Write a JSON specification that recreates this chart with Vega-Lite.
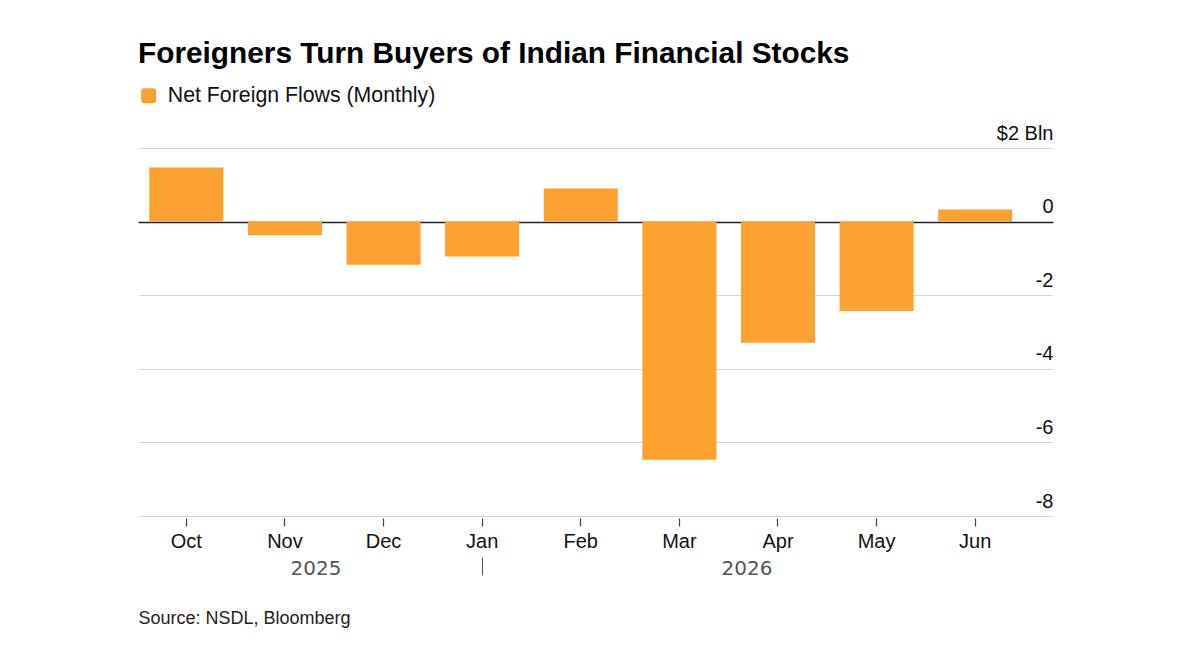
{
  "$schema": "https://vega.github.io/schema/vega-lite/v6.json",
  "autosize": {"type": "none"},
  "width": 915,
  "height": 368,
  "padding": {"left": 138, "top": 148, "right": 147, "bottom": 142},
  "background": "#ffffff",
  "title": {
    "text": "Foreigners Turn Buyers of Indian Financial Stocks",
    "anchor": "start",
    "frame": "group",
    "font": "Liberation Sans",
    "fontSize": 29.8,
    "fontWeight": "bold",
    "color": "#000000",
    "baseline": "alphabetic",
    "offset": -8
  },
  "config": {
    "view": {"stroke": null},
    "axis": {"labelFont": "Liberation Sans", "titleFont": "Liberation Sans"},
    "legend": {"labelFont": "Liberation Sans"}
  },
  "data": {
    "values": [
      {"month": "Oct", "flow": 1.47, "series": "Net Foreign Flows (Monthly)"},
      {"month": "Nov", "flow": -0.37, "series": "Net Foreign Flows (Monthly)"},
      {"month": "Dec", "flow": -1.17, "series": "Net Foreign Flows (Monthly)"},
      {"month": "Jan", "flow": -0.95, "series": "Net Foreign Flows (Monthly)"},
      {"month": "Feb", "flow": 0.9, "series": "Net Foreign Flows (Monthly)"},
      {"month": "Mar", "flow": -6.47, "series": "Net Foreign Flows (Monthly)"},
      {"month": "Apr", "flow": -3.29, "series": "Net Foreign Flows (Monthly)"},
      {"month": "May", "flow": -2.43, "series": "Net Foreign Flows (Monthly)"},
      {"month": "Jun", "flow": 0.33, "series": "Net Foreign Flows (Monthly)"}
    ]
  },
  "resolve": {"axis": {"x": "independent"}},
  "layer": [
    {
      "mark": {"type": "bar"},
      "encoding": {
        "x": {
          "field": "month",
          "type": "ordinal",
          "sort": null,
          "scale": {"paddingInner": 0.249, "paddingOuter": 0.264, "align": 0.217},
          "axis": {
            "orient": "bottom",
            "title": null,
            "domain": false,
            "grid": false,
            "offset": 2,
            "tickSize": 8,
            "tickColor": "#444444",
            "tickWidth": 1.2,
            "labelAngle": 0,
            "labelBaseline": "top",
            "labelPadding": 5,
            "labelFontSize": 20,
            "labelColor": "#111111"
          }
        },
        "y": {
          "field": "flow",
          "type": "quantitative",
          "scale": {"domain": [-8, 2], "nice": false, "zero": false},
          "axis": {
            "orient": "right",
            "title": null,
            "values": [-8, -6, -4, -2, 0, 2],
            "grid": true,
            "gridColor": {"condition": {"test": "datum.value == 0", "value": "#222222"}, "value": "#d6d6d6"},
            "gridWidth": {"condition": {"test": "datum.value == 0", "value": 1.5}, "value": 1},
            "domain": false,
            "ticks": false,
            "tickSize": 0,
            "labelPadding": 0,
            "labelAlign": "right",
            "labelBaseline": "alphabetic",
            "labelOffset": -9,
            "labelExpr": "datum.value == 2 ? '$2 Bln' : '' + datum.value",
            "labelFontSize": 20,
            "labelColor": "#111111"
          }
        },
        "color": {
          "field": "series",
          "type": "nominal",
          "scale": {"range": ["#FCA130"]},
          "legend": {
            "title": null,
            "orient": "none",
            "legendX": 0,
            "legendY": -63,
            "padding": 0,
            "symbolType": "M-1,-0.6Q-1,-1,-0.6,-1L0.6,-1Q1,-1,1,-0.6L1,0.6Q1,1,0.6,1L-0.6,1Q-1,1,-1,0.6Z",
            "symbolSize": 225,
            "symbolStrokeWidth": 0,
            "symbolOpacity": 1,
            "labelOffset": 8.5,
            "labelLimit": 500,
            "labelFontSize": 21.3,
            "labelColor": "#111111"
          }
        }
      }
    },
    {
      "mark": {"type": "point", "opacity": 0},
      "encoding": {
        "x": {
          "field": "month",
          "type": "ordinal",
          "sort": null,
          "axis": {
            "orient": "bottom",
            "values": ["Nov", "Jan", "Apr"],
            "labelExpr": "datum.value == 'Nov' ? '2025' : datum.value == 'Apr' ? '2026' : ''",
            "labelOffset": {"condition": {"test": "datum.value == 'Nov'", "value": 31}, "value": -31},
            "tickOpacity": {"condition": {"test": "datum.value == 'Jan'", "value": 1}, "value": 0},
            "offset": 41,
            "tickSize": 18,
            "tickColor": "#555555",
            "tickWidth": 1,
            "domain": false,
            "grid": false,
            "labelAngle": 0,
            "labelBaseline": "top",
            "labelPadding": -17,
            "labelFont": "DejaVu Sans",
            "labelFontSize": 20,
            "labelColor": "#555555",
            "title": "Source: NSDL, Bloomberg",
            "titleX": 0,
            "titleY": 66,
            "titleAlign": "left",
            "titleAnchor": "start",
            "titleBaseline": "alphabetic",
            "titleAngle": 0,
            "titleFontSize": 18,
            "titleFontWeight": "normal",
            "titleColor": "#222222"
          }
        }
      }
    }
  ]
}
